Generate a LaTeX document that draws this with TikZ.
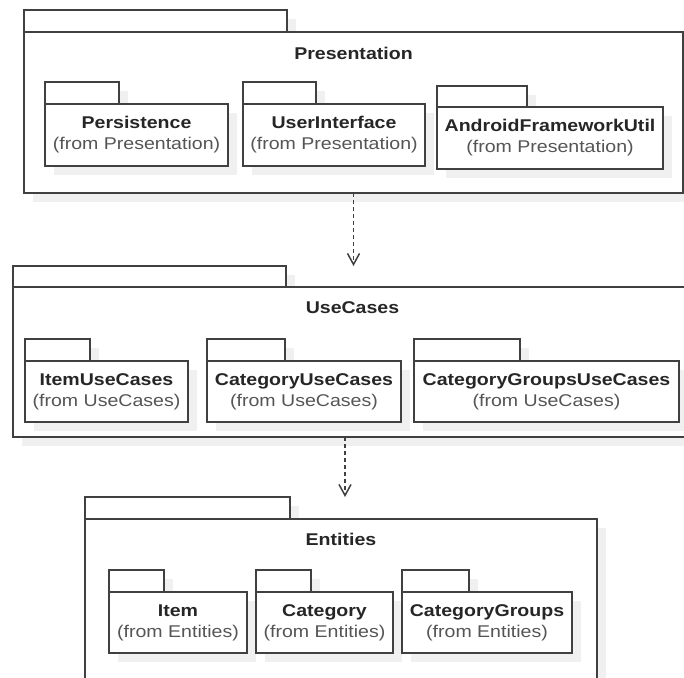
\documentclass[tikz,border=0pt]{standalone}
\usepackage{fontspec}
\setmainfont[FakeStretch=1.15]{Liberation Sans}
\usetikzlibrary{positioning, shadows, arrows.meta}
\definecolor{umlline}{HTML}{404040}
\definecolor{fromgray}{HTML}{555555}

\begin{document}
\begin{tikzpicture}[x=1pt, y=-1pt,
    pkgshadow/.style={drop shadow={shadow xshift=9pt, shadow yshift=-9pt, fill=black!6, opacity=1}},
    pkgtab/.style={rectangle, draw=umlline, line width=1.8pt, fill=white, anchor=north west, inner sep=0pt, outer sep=0pt, minimum height=22pt, pkgshadow},
    pkgbody/.style={rectangle, draw=umlline, line width=1.8pt, fill=white, anchor=north west, inner sep=0pt, outer sep=0pt, align=center, text=black!85, font=\fontsize{17}{21}\selectfont, execute at begin node=\rule{0pt}{18pt}, pkgshadow},
    pkgtitle/.style={font=\fontsize{17}{21}\selectfont\bfseries, text=black!85},
    depend/.style={draw=umlline, line width=1.5pt, dash pattern=on 4pt off 3pt, -{Straight Barb[length=11pt, width=12pt]}}
]
\useasboundingbox (0,0) rectangle (684,677);

% Presentation
\node[pkgtab, minimum width=263pt] (presTab) at (24,10) {};
\node[pkgbody, minimum width=659pt, minimum height=161pt] (pres) at (presTab.south west) {};
\node[pkgtitle] (presTitle) at ([yshift=-21pt]pres.north) {Presentation};

\node[pkgtab, minimum width=74pt] (persTab) at (45,82) {};
\node[pkgbody, minimum width=183pt, minimum height=62pt] (pers) at (persTab.south west) {\textbf{Persistence}\\\textcolor{fromgray}{(from Presentation)}};
\node[pkgtab, minimum width=73pt] (uiTab) at (243,82) {};
\node[pkgbody, minimum width=182pt, minimum height=62pt] (ui) at (uiTab.south west) {\textbf{UserInterface}\\\textcolor{fromgray}{(from Presentation)}};
\node[pkgtab, minimum width=90pt, minimum height=21pt] (afuTab) at (437,86) {};
\node[pkgbody, minimum width=226pt, minimum height=62pt] (afu) at (afuTab.south west) {\textbf{AndroidFrameworkUtil}\\\textcolor{fromgray}{(from Presentation)}};

% UseCases
\node[pkgtab, minimum width=273pt, minimum height=21pt] (ucTab) at (13,266) {};
\node[pkgbody, minimum width=679pt, minimum height=150pt] (uc) at (ucTab.south west) {};
\node[pkgtitle] (ucTitle) at ([yshift=-21pt]uc.north) {UseCases};

\node[pkgtab, minimum width=65pt] (itemucTab) at (25,339) {};
\node[pkgbody, minimum width=163pt, minimum height=61pt] (itemuc) at (itemucTab.south west) {\textbf{ItemUseCases}\\\textcolor{fromgray}{(from UseCases)}};
\node[pkgtab, minimum width=78pt] (catucTab) at (207,339) {};
\node[pkgbody, minimum width=194pt, minimum height=61pt] (catuc) at (catucTab.south west) {\textbf{CategoryUseCases}\\\textcolor{fromgray}{(from UseCases)}};
\node[pkgtab, minimum width=106pt] (grpucTab) at (414,339) {};
\node[pkgbody, minimum width=265pt, minimum height=61pt] (grpuc) at (grpucTab.south west) {\textbf{CategoryGroupsUseCases}\\\textcolor{fromgray}{(from UseCases)}};

% Entities
\node[pkgtab, minimum width=205pt] (entTab) at (85,497) {};
\node[pkgbody, minimum width=512pt, minimum height=180pt] (ent) at (entTab.south west) {};
\node[pkgtitle] (entTitle) at ([yshift=-20pt]ent.north) {Entities};

\node[pkgtab, minimum width=55pt] (itemTab) at (109,570) {};
\node[pkgbody, minimum width=138pt, minimum height=61pt] (item) at (itemTab.south west) {\textbf{Item}\\\textcolor{fromgray}{(from Entities)}};
\node[pkgtab, minimum width=55pt] (catTab) at (256,570) {};
\node[pkgbody, minimum width=137pt, minimum height=61pt] (cat) at (catTab.south west) {\textbf{Category}\\\textcolor{fromgray}{(from Entities)}};
\node[pkgtab, minimum width=67pt] (grpTab) at (402,570) {};
\node[pkgbody, minimum width=170pt, minimum height=61pt] (grp) at (grpTab.south west) {\textbf{CategoryGroups}\\\textcolor{fromgray}{(from Entities)}};

% Dependencies
\draw[depend] (pres.south) -- (pres.south |- ucTab.north);
\draw[depend] ([xshift=4pt]uc.south -| ent.north) -- ([xshift=4pt]ent.north |- entTab.north);

\end{tikzpicture}
\end{document}
